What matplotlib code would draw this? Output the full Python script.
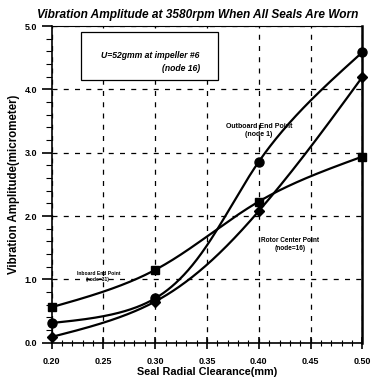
import numpy as np
import matplotlib.pyplot as plt
from matplotlib.ticker import MultipleLocator
from matplotlib.patches import Rectangle

plt.rcParams['font.family'] = ['Liberation Sans', 'DejaVu Sans']
plt.rcParams['font.weight'] = 'bold'

clearance = [0.20, 0.30, 0.40, 0.50]
outboard = [0.31, 0.70, 2.86, 4.59]   # node 1, circles
inboard = [0.56, 1.15, 2.23, 2.94]    # node 31, squares
rotor = [0.09, 0.65, 2.08, 4.20]      # node 16, diamonds


def spline_coef(t, y):
    n = len(t); h = np.diff(t)
    A = np.zeros((n, n)); b = np.zeros(n)
    A[0, 0] = A[-1, -1] = 1
    for i in range(1, n - 1):
        A[i, i - 1] = h[i - 1]; A[i, i] = 2 * (h[i - 1] + h[i]); A[i, i + 1] = h[i]
        b[i] = 6 * ((y[i + 1] - y[i]) / h[i] - (y[i] - y[i - 1]) / h[i - 1])
    return np.linalg.solve(A, b)


def spline_eval(t, y, M, ts):
    h = np.diff(t)
    i = np.clip(np.searchsorted(t, ts) - 1, 0, len(t) - 2)
    a = t[i + 1] - ts; c = ts - t[i]; hi = h[i]
    return (M[i] * a**3 + M[i + 1] * c**3) / (6 * hi) \
        + (y[i] / hi - M[i] * hi / 6) * a + (y[i + 1] / hi - M[i + 1] * hi / 6) * c


def param_spline(ax, x, y):
    # smooth curve through the points, parametrised by chord length on screen
    pts = ax.transData.transform(np.column_stack([x, y]))
    t = np.concatenate([[0], np.cumsum(np.hypot(*np.diff(pts, axis=0).T))])
    ts = np.linspace(0, t[-1], 400)
    px = spline_eval(t, pts[:, 0], spline_coef(t, pts[:, 0]), ts)
    py = spline_eval(t, pts[:, 1], spline_coef(t, pts[:, 1]), ts)
    d = ax.transData.inverted().transform(np.column_stack([px, py]))
    return d[:, 0], d[:, 1]


fig = plt.figure(figsize=(3.71, 3.85), dpi=100)
ax = fig.add_axes([0.139, 0.110, 0.838, 0.822])
ax.set_xlim(0.20, 0.50)
ax.set_ylim(0.0, 5.0)

for vals, mk, ms in [(outboard, 'o', 6.5), (inboard, 's', 5.5), (rotor, 'D', 5)]:
    sx, sy = param_spline(ax, clearance, vals)
    ax.plot(sx, sy, color='black', lw=1.6, clip_on=False, zorder=3)
    ax.plot(clearance, vals, ls='none', marker=mk, ms=ms, color='black', clip_on=False, zorder=4)

ax.xaxis.set_major_locator(MultipleLocator(0.05))
ax.xaxis.set_minor_locator(MultipleLocator(0.01))
ax.yaxis.set_major_locator(MultipleLocator(1.0))
ax.yaxis.set_minor_locator(MultipleLocator(0.2))
ax.xaxis.set_major_formatter(plt.FormatStrFormatter('%.2f'))
ax.yaxis.set_major_formatter(plt.FormatStrFormatter('%.1f'))
ax.tick_params(axis='x', which='major', direction='inout', length=8, width=1.2, labelsize=6.5, pad=6)
ax.tick_params(axis='x', which='minor', direction='inout', length=4, width=0.8)
ax.tick_params(axis='y', which='major', direction='out', length=7, width=1.2, labelsize=6.5)
ax.tick_params(axis='y', which='minor', direction='out', length=4, width=0.8)
for lab in ax.get_xticklabels() + ax.get_yticklabels():
    lab.set_fontweight('bold')
ax.grid(True, which='major', ls=(0, (4, 5)), color='black', lw=0.9)

ax.spines['top'].set_linewidth(0.8)
ax.spines['left'].set_linewidth(1.2)
ax.spines['bottom'].set_linewidth(1.2)
ax.spines['right'].set_linewidth(1.8)

ax.set_title('Vibration Amplitude at 3580rpm When All Seals Are Worn',
             fontsize=8.6, style='italic', fontweight='bold', pad=6, x=0.47)
ax.set_xlabel('Seal Radial Clearance(mm)', fontsize=7.8, fontweight='bold', labelpad=1)
ax.set_ylabel('Vibration Amplitude(micrometer)', fontsize=8.3, fontweight='bold', labelpad=3)

ax.add_patch(Rectangle((0.094, 0.829), 0.441, 0.152, transform=ax.transAxes,
                       fc='white', ec='black', lw=0.9, zorder=5))
ax.text(0.317, 0.908, 'U=52gmm at impeller #6', transform=ax.transAxes,
        fontsize=6.2, style='italic', fontweight='bold', ha='center', va='center', zorder=6)
ax.text(0.478, 0.867, '(node 16)', transform=ax.transAxes,
        fontsize=6.2, style='italic', fontweight='bold', ha='right', va='center', zorder=6)

ax.text(0.400, 3.35, 'Outboard End Point\n(node 1)', fontsize=5.0, fontweight='bold', ha='center', va='center')
ax.text(0.430, 1.55, 'Rotor Center Point\n(node=16)', fontsize=4.7, fontweight='bold', ha='center', va='center')
ax.text(0.245, 1.05, 'Inboard End Point\n(node=31)', fontsize=3.6, fontweight='bold', ha='center', va='center')

fig.savefig('out.png', dpi=100)
